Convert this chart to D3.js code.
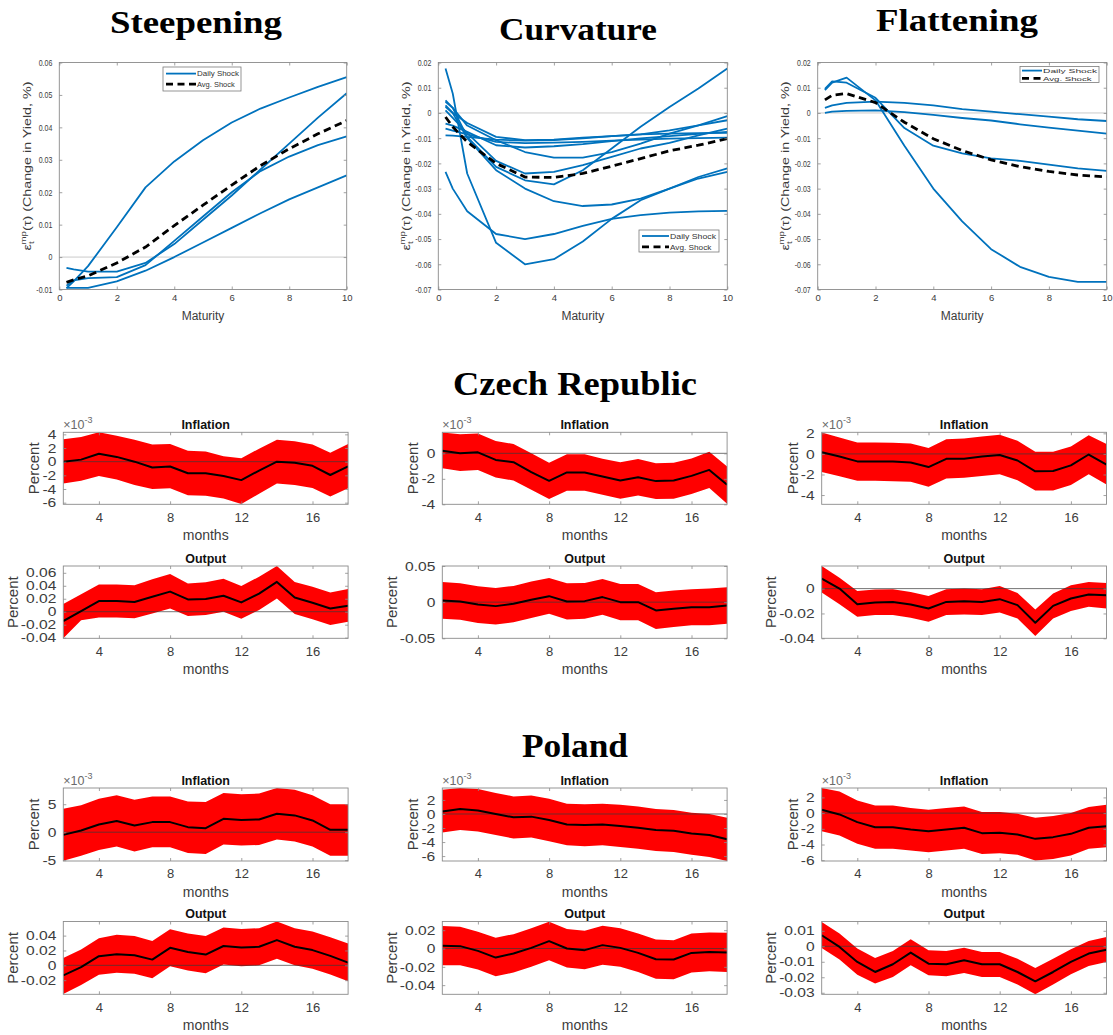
<!DOCTYPE html>
<html>
<head>
<meta charset="utf-8">
<script src="https://cdn.jsdelivr.net/npm/d3@7"></script>
<style>
  body { margin: 0; background: #fff; }
  svg { display: block; }
</style>
</head>
<body>
<svg id="fig" width="1113" height="1035"></svg>
<script>
// ---------- Yield-curve responses to monetary policy shocks ----------
const maturities = [0.25, 0.5, 1, 2, 3, 4, 5, 6, 7, 8, 9, 10];
const maturityTicks = [0, 2, 4, 6, 8, 10];
const steepeningTicks = [-0.01, 0, 0.01, 0.02, 0.03, 0.04, 0.05, 0.06];
const curveTicks = [-0.07, -0.06, -0.05, -0.04, -0.03, -0.02, -0.01, 0, 0.01, 0.02];

const steepeningDaily = [
  [-0.0096, -0.0075, -0.0028, 0.0092, 0.0215, 0.0295, 0.0360, 0.0415, 0.0458, 0.0492, 0.0525, 0.0555],
  [-0.0033, -0.0038, -0.0045, -0.0045, -0.0018, 0.0040, 0.0115, 0.0190, 0.0270, 0.0350, 0.0430, 0.0505],
  [-0.0088, -0.0072, -0.0065, -0.0062, -0.0025, 0.0050, 0.0125, 0.0200, 0.0265, 0.0310, 0.0345, 0.0372],
  [-0.0095, -0.0095, -0.0095, -0.0075, -0.0042, 0.0000, 0.0045, 0.0090, 0.0135, 0.0178, 0.0215, 0.0252]
];
const steepeningAvg = [-0.0078, -0.0070, -0.0058, -0.0018, 0.0031, 0.0097, 0.0160, 0.0222, 0.0282, 0.0334, 0.0380, 0.0421];

const curvatureDaily = [
  [0.0176, 0.0077, -0.0240, -0.0515, -0.0600, -0.0580, -0.0510, -0.0420, -0.0346, -0.0300, -0.0254, -0.0220],
  [-0.0234, -0.0300, -0.0390, -0.0480, -0.0500, -0.0480, -0.0448, -0.0420, -0.0405, -0.0395, -0.0390, -0.0388],
  [0.0024, 0.0000, -0.0100, -0.0227, -0.0300, -0.0350, -0.0369, -0.0363, -0.0340, -0.0300, -0.0260, -0.0234],
  [0.0050, 0.0020, -0.0095, -0.0214, -0.0267, -0.0283, -0.0227, -0.0141, -0.0055, 0.0024, 0.0097, 0.0176],
  [0.0010, -0.0020, -0.0080, -0.0190, -0.0240, -0.0234, -0.0207, -0.0174, -0.0141, -0.0119, -0.0089, -0.0062],
  [0.0044, 0.0020, -0.0050, -0.0108, -0.0155, -0.0177, -0.0177, -0.0155, -0.0122, -0.0082, -0.0049, -0.0013],
  [0.0030, 0.0000, -0.0040, -0.0095, -0.0108, -0.0106, -0.0098, -0.0092, -0.0085, -0.0069, -0.0049, -0.0029],
  [-0.0042, -0.0050, -0.0075, -0.0128, -0.0137, -0.0132, -0.0124, -0.0112, -0.0101, -0.0092, -0.0083, -0.0075],
  [-0.0089, -0.0090, -0.0095, -0.0106, -0.0110, -0.0108, -0.0101, -0.0092, -0.0085, -0.0082, -0.0080, -0.0079],
  [-0.0062, -0.0070, -0.0085, -0.0115, -0.0120, -0.0118, -0.0115, -0.0110, -0.0106, -0.0102, -0.0100, -0.0098]
];
const curvatureAvg = [-0.0016, -0.0055, -0.0115, -0.0200, -0.0254, -0.0256, -0.0240, -0.0211, -0.0181, -0.0150, -0.0128, -0.0102];

const flatteningDaily = [
  [0.0090, 0.0120, 0.0140, 0.0050, -0.0130, -0.0300, -0.0430, -0.0540, -0.0610, -0.0650, -0.0670, -0.0670],
  [0.0095, 0.0125, 0.0120, 0.0060, -0.0060, -0.0130, -0.0160, -0.0180, -0.0190, -0.0205, -0.0220, -0.0230],
  [0.0020, 0.0030, 0.0040, 0.0045, 0.0040, 0.0030, 0.0015, 0.0005, -0.0005, -0.0015, -0.0025, -0.0032],
  [0.0000, 0.0005, 0.0008, 0.0010, 0.0003, -0.0008, -0.0020, -0.0030, -0.0045, -0.0058, -0.0070, -0.0082]
];
const flatteningAvg = [0.0052, 0.0070, 0.0077, 0.0041, -0.0037, -0.0102, -0.0149, -0.0186, -0.0213, -0.0232, -0.0246, -0.0254];

// ---------- Impulse responses (median with error band) ----------
const months = [2, 3, 4, 5, 6, 7, 8, 9, 10, 11, 12, 13, 14, 15, 16, 17, 18];
const monthTicks = [4, 8, 12, 16];

// Czech Republic, inflation (x 10^-3 percent)
const czInflMed1 = [0.0, 0.3, 1.15, 0.7, 0.0, -0.85, -0.7, -1.7, -1.7, -2.1, -2.7, -1.3, 0.0, -0.15, -0.6, -1.95, -0.7];
const czInflHi1  = [3.3, 3.6, 4.3, 3.8, 3.2, 2.5, 2.6, 1.6, 1.5, 0.8, 0.5, 1.9, 3.2, 3.0, 2.5, 1.3, 2.6];
const czInflLo1  = [-3.2, -2.8, -2.1, -2.6, -3.4, -4.0, -3.9, -4.9, -5.0, -5.4, -6.2, -4.7, -3.2, -3.4, -3.85, -5.1, -3.9];
const czInflMed2 = [0.2, 0.0, 0.08, -0.52, -0.7, -1.48, -2.16, -1.5, -1.5, -1.82, -2.13, -1.87, -2.18, -2.13, -1.77, -1.3, -2.47];
const czInflHi2  = [1.64, 1.5, 1.56, 0.96, 0.73, 0.0, -0.73, -0.08, -0.08, -0.42, -0.7, -0.44, -0.78, -0.73, -0.4, 0.13, -1.04];
const czInflLo2  = [-1.17, -1.38, -1.3, -1.9, -2.13, -2.86, -3.58, -2.93, -2.93, -3.25, -3.56, -3.3, -3.58, -3.56, -3.2, -2.73, -3.95];
const czInflMed3 = [0.16, -0.25, -0.73, -0.73, -0.73, -0.83, -1.28, -0.48, -0.48, -0.25, -0.1, -0.64, -1.69, -1.66, -1.12, -0.06, -1.05];
const czInflHi3  = [2.07, 1.6, 1.12, 1.12, 1.08, 1.0, 0.57, 1.43, 1.5, 1.69, 1.85, 1.28, 0.22, 0.22, 0.73, 1.82, 0.96];
const czInflLo3  = [-1.75, -2.17, -2.6, -2.6, -2.65, -2.7, -3.2, -2.4, -2.33, -2.14, -1.98, -2.55, -3.57, -3.57, -3.03, -1.98, -2.97];

// Czech Republic, output (percent)
const czOutMed1 = [-0.0144, 0.001, 0.0164, 0.0164, 0.015, 0.023, 0.031, 0.019, 0.0195, 0.0246, 0.0144, 0.028, 0.046, 0.022, 0.0138, 0.005, 0.0092];
const czOutHi1  = [0.0118, 0.027, 0.042, 0.042, 0.041, 0.050, 0.058, 0.0436, 0.0456, 0.051, 0.0395, 0.054, 0.0705, 0.046, 0.0385, 0.0297, 0.035];
const czOutLo1  = [-0.041, -0.013, -0.009, -0.009, -0.010, -0.0026, 0.005, -0.0067, -0.005, 0.0, -0.011, 0.0026, 0.0205, -0.0036, -0.0118, -0.0205, -0.0154];
const czOutMed2 = [0.0023, 0.001, -0.0032, -0.0055, -0.0023, 0.0032, 0.0083, 0.001, 0.0014, 0.007, 0.0, 0.0, -0.0115, -0.0092, -0.007, -0.007, -0.0046];
const czOutHi2  = [0.0278, 0.026, 0.022, 0.0194, 0.0225, 0.0285, 0.0335, 0.026, 0.0266, 0.032, 0.025, 0.025, 0.0138, 0.016, 0.018, 0.019, 0.0206];
const czOutLo2  = [-0.023, -0.0245, -0.0287, -0.031, -0.0278, -0.0218, -0.016, -0.024, -0.023, -0.0175, -0.025, -0.025, -0.037, -0.0344, -0.032, -0.032, -0.030];
const czOutMed3 = [0.008, 0.0, -0.0125, -0.0112, -0.0107, -0.0128, -0.016, -0.0107, -0.0101, -0.0107, -0.0085, -0.0133, -0.0275, -0.0139, -0.008, -0.0048, -0.0053];
const czOutHi3  = [0.0181, 0.0088, -0.0019, -0.0008, -0.0005, -0.0027, -0.0059, -0.0005, 0.0, -0.0005, 0.0021, -0.0035, -0.0168, -0.004, 0.0027, 0.0053, 0.0045];
const czOutLo3  = [-0.0032, -0.0125, -0.0227, -0.0213, -0.0213, -0.0235, -0.0267, -0.0213, -0.0208, -0.0213, -0.0192, -0.024, -0.0381, -0.024, -0.0181, -0.0147, -0.016];

// Poland, inflation (x 10^-3 percent)
const plInflMed1 = [-0.48, 0.3, 1.38, 2.0, 1.2, 1.8, 1.8, 0.9, 0.72, 2.4, 2.2, 2.28, 3.3, 3.0, 2.1, 0.42, 0.42];
const plInflHi1  = [4.2, 4.8, 6.0, 6.6, 5.8, 6.4, 6.4, 5.5, 5.4, 7.0, 6.8, 6.9, 7.9, 7.6, 6.6, 5.0, 5.0];
const plInflLo1  = [-5.1, -4.2, -3.17, -2.57, -3.47, -2.7, -2.7, -3.7, -3.9, -2.2, -2.4, -2.28, -1.3, -1.68, -2.57, -4.2, -4.2];
const plInflMed2 = [0.34, 0.72, 0.48, 0.0, -0.48, -0.38, -0.86, -1.5, -1.58, -1.5, -1.73, -1.97, -2.3, -2.4, -2.78, -3.0, -3.6];
const plInflHi2  = [3.45, 3.7, 3.55, 3.0, 2.5, 2.64, 2.16, 1.44, 1.39, 1.44, 1.3, 1.06, 0.72, 0.58, 0.19, 0.0, -0.53];
const plInflLo2  = [-2.64, -2.3, -2.5, -3.0, -3.5, -3.36, -3.9, -4.46, -4.6, -4.46, -4.7, -4.94, -5.28, -5.42, -5.8, -6.14, -6.7];
const plInflMed3 = [0.43, -0.17, -1.15, -1.79, -1.79, -2.08, -2.3, -2.08, -1.87, -2.55, -2.5, -2.72, -3.28, -3.06, -2.64, -1.87, -1.66];
const plInflHi3  = [3.2, 2.77, 1.62, 0.98, 0.98, 0.64, 0.43, 0.64, 0.85, 0.13, 0.13, -0.09, -0.6, -0.38, 0.0, 0.77, 1.06];
const plInflLo3  = [-2.3, -2.85, -3.9, -4.55, -4.55, -4.77, -4.98, -4.77, -4.55, -5.2, -5.1, -5.3, -6.04, -5.83, -5.4, -4.55, -4.34];

// Poland, output (percent)
const plOutMed1 = [-0.0136, -0.0023, 0.0123, 0.015, 0.0136, 0.0077, 0.0236, 0.018, 0.0145, 0.026, 0.024, 0.025, 0.034, 0.025, 0.0205, 0.0127, 0.0036];
const plOutHi1  = [0.01, 0.0214, 0.0364, 0.041, 0.0395, 0.0327, 0.0486, 0.043, 0.0395, 0.051, 0.049, 0.05, 0.059, 0.05, 0.0455, 0.0377, 0.0295];
const plOutLo1  = [-0.0386, -0.0264, -0.0127, -0.01, -0.0114, -0.0173, -0.0014, -0.0068, -0.0105, 0.001, -0.0014, 0.0, 0.009, 0.0, -0.0045, -0.0123, -0.0214];
const plOutMed2 = [0.0029, 0.0026, -0.0026, -0.0099, -0.0055, 0.0007, 0.008, 0.0, -0.0018, 0.0037, 0.0007, -0.0048, -0.0117, -0.012, -0.0048, -0.0037, -0.0044];
const plOutHi2  = [0.0245, 0.0238, 0.0183, 0.0117, 0.0157, 0.022, 0.0293, 0.0212, 0.0194, 0.0249, 0.022, 0.0165, 0.0099, 0.0091, 0.0165, 0.0175, 0.0172];
const plOutLo2  = [-0.0183, -0.0183, -0.023, -0.0303, -0.0263, -0.02, -0.0128, -0.0208, -0.0227, -0.0176, -0.02, -0.0256, -0.0329, -0.0336, -0.0263, -0.0249, -0.0256];
const plOutMed3 = [0.0071, -0.0004, -0.0101, -0.0166, -0.0116, -0.0041, -0.0112, -0.0116, -0.009, -0.0116, -0.0116, -0.0166, -0.0226, -0.0166, -0.0101, -0.0047, -0.0022];
const plOutHi3  = [0.0157, 0.0082, -0.0015, -0.0075, -0.003, 0.0045, -0.0026, -0.003, -0.0009, -0.0037, -0.0037, -0.008, -0.014, -0.008, -0.0019, 0.0034, 0.006];
const plOutLo3  = [-0.0011, -0.0086, -0.0183, -0.0241, -0.0198, -0.0123, -0.0187, -0.0194, -0.0172, -0.0198, -0.0198, -0.0247, -0.031, -0.0247, -0.0181, -0.0127, -0.0101];

// Axis limits and tick values of each response panel
const czInflLimits = [[-6.24, 4.3], [-4.0, 1.65], [-4.9, 2.1]];
const czInflTicks  = [[-6, -4, -2, 0, 2, 4], [-4, -2, 0], [-4, -2, 0, 2]];
const czOutLimits  = [[-0.041, 0.0705], [-0.05, 0.05], [-0.04, 0.0182]];
const czOutTicks   = [[-0.04, -0.02, 0, 0.02, 0.04, 0.06], [-0.05, 0, 0.05], [-0.04, -0.02, 0]];
const plInflLimits = [[-5.15, 7.9], [-6.7, 3.7], [-6.1, 3.2]];
const plInflTicks  = [[-5, 0, 5], [-6, -4, -2, 0, 2], [-6, -4, -2, 0, 2]];
const plOutLimits  = [[-0.039, 0.059], [-0.05, 0.0295], [-0.031, 0.016]];
const plOutTicks   = [[-0.02, 0, 0.02, 0.04], [-0.04, -0.02, 0, 0.02], [-0.03, -0.02, -0.01, 0, 0.01]];

// ---------- drawing ----------
const svg = d3.select("#fig");
const SANS = "'Liberation Sans', Arial, Helvetica, sans-serif";
const SERIF = "'Liberation Serif', 'Times New Roman', serif";
const AXIS_TEXT = "#3c3c3c";
const BOX = "#8a8a8a";
const BLUE = "#0072BD";
let clipId = 0;

const fmt = d => (d === 0 ? "0" : String(+d.toFixed(4)));

function clipFor(x, y) {
  const id = "clip" + (clipId++);
  svg.append("clipPath").attr("id", id).append("rect")
    .attr("x", x.range()[0]).attr("y", y.range()[1])
    .attr("width", x.range()[1] - x.range()[0])
    .attr("height", y.range()[0] - y.range()[1]);
  return "url(#" + id + ")";
}

// Box with inward ticks on all four sides, labels on left and bottom.
// yStretch widens (or narrows) the y tick labels along their reading direction.
function drawFrame(x, y, xTicks, yTicks, fs, pad) {
  const g = svg.append("g");
  const [x0, x1] = x.range();
  const [yb, yt] = y.range();
  const tk = 3;
  const style = (sel, size) => {
    sel.select(".domain").remove();
    sel.selectAll(".tick line").attr("stroke", BOX).attr("stroke-width", 0.8);
    sel.selectAll(".tick text").attr("fill", AXIS_TEXT).style("font-family", SANS).style("font-size", size + "px");
  };
  g.append("g").attr("transform", `translate(0,${yb})`)
    .call(d3.axisBottom(x).tickValues(xTicks).tickSizeInner(-tk).tickSizeOuter(0).tickPadding(pad.x).tickFormat(fmt))
    .call(s => style(s, fs.x));
  g.append("g").attr("transform", `translate(0,${yt})`)
    .call(d3.axisTop(x).tickValues(xTicks).tickSizeInner(-tk).tickSizeOuter(0).tickFormat(""))
    .call(s => style(s, fs.x));
  const left = g.append("g").attr("transform", `translate(${x0},0)`)
    .call(d3.axisLeft(y).tickValues(yTicks).tickSizeInner(-tk).tickSizeOuter(0).tickPadding(pad.y).tickFormat(fmt))
    .call(s => style(s, fs.y));
  left.selectAll(".tick text")
    .attr("x", 0)
    .attr("transform", `translate(${-pad.y},0) scale(${fs.yStretch},1)`);
  g.append("g").attr("transform", `translate(${x1},0)`)
    .call(d3.axisRight(y).tickValues(yTicks).tickSizeInner(-tk).tickSizeOuter(0).tickFormat(""))
    .call(s => style(s, fs.x));
  g.append("rect").attr("x", x0).attr("y", yt).attr("width", x1 - x0).attr("height", yb - yt)
    .attr("fill", "none").attr("stroke", BOX).attr("stroke-width", 0.9);
  let maxW = 0;
  left.selectAll(".tick text").each(function () { maxW = Math.max(maxW, this.getBBox().width * fs.yStretch); });
  return { labelLeft: x0 - pad.y - maxW };
}

// ----- top row: yield curve shocks -----
const topY = [289.5, 62.5];
const topPanels = [
  { title: "Steepening", tx: 196, ty: 33, tw: 172, x: [59.3, 346.7], dom: [-0.01, 0.06], ticks: steepeningTicks,
    daily: steepeningDaily, avg: steepeningAvg,
    leg: { x: 163, y: 67, w: 78, h: 24, s0: 166, s1: 196, r: [73.6, 84.2], fs: 8, tl: 42 } },
  { title: "Curvature", tx: 578, ty: 40, tw: 158, x: [438.3, 727.3], dom: [-0.07, 0.02], ticks: curveTicks,
    daily: curvatureDaily, avg: curvatureAvg,
    leg: { x: 639, y: 230, w: 80, h: 22, s0: 642, s1: 669, r: [236, 246.8], fs: 8, tl: 46 } },
  { title: "Flattening", tx: 957, ty: 31, tw: 162, x: [817.7, 1106.7], dom: [-0.07, 0.02], ticks: curveTicks,
    daily: flatteningDaily, avg: flatteningAvg,
    leg: { x: 1020, y: 66.5, w: 79, h: 16, s0: 1022, s1: 1042, r: [70.6, 78.4], fs: 6.2, tl: 54 } }
];

topPanels.forEach(p => {
  const x = d3.scaleLinear().domain([0, 10]).range(p.x);
  const y = d3.scaleLinear().domain(p.dom).range(topY);
  const clip = clipFor(x, y);
  const line = d3.line().x((d, i) => x(maturities[i])).y(d => y(d));

  svg.append("text").attr("x", p.tx).attr("y", p.ty).attr("text-anchor", "middle")
    .attr("textLength", p.tw).attr("lengthAdjust", "spacingAndGlyphs")
    .style("font-family", SERIF).style("font-weight", "bold").style("font-size", "31px")
    .text(p.title);

  const plot = svg.append("g").attr("clip-path", clip);
  plot.append("line").attr("x1", p.x[0]).attr("x2", p.x[1]).attr("y1", y(0)).attr("y2", y(0))
    .attr("stroke", "#c4c4c4").attr("stroke-width", 0.9);
  plot.selectAll(".daily").data(p.daily).join("path")
    .attr("d", line).attr("fill", "none").attr("stroke", BLUE).attr("stroke-width", 1.8)
    .attr("stroke-linejoin", "round");
  plot.append("path").datum(p.avg).attr("d", line).attr("fill", "none")
    .attr("stroke", "#000").attr("stroke-width", 2.8).attr("stroke-dasharray", "7.5,4.5");

  const fr = drawFrame(x, y, maturityTicks, p.ticks, { x: 9.5, y: 9, yStretch: 0.78 }, { x: 5, y: 7 });

  svg.append("text").attr("x", (p.x[0] + p.x[1]) / 2).attr("y", topY[0] + 30)
    .attr("text-anchor", "middle").attr("fill", AXIS_TEXT)
    .style("font-family", SANS).style("font-size", "12px").text("Maturity");

  // rotated label: epsilon with stacked sub/superscript, lengthened along the text
  const cy = 166;
  const lab = svg.append("text")
    .attr("transform", `translate(${fr.labelLeft - 5},${cy}) rotate(-90) scale(1.3,1)`)
    .attr("text-anchor", "middle").attr("fill", AXIS_TEXT)
    .style("font-family", SANS).style("font-size", "11px");
  lab.append("tspan").text("\u03B5");
  lab.append("tspan").attr("dy", 3).style("font-size", "7.5px").text("t");
  lab.append("tspan").attr("dx", -2.4).attr("dy", -8).style("font-size", "7.5px").text("mp");
  lab.append("tspan").attr("dy", 5).text("(\u03C4) (Change in Yield, %)");

  // legend
  const L = p.leg;
  const lg = svg.append("g");
  lg.append("rect").attr("x", L.x).attr("y", L.y).attr("width", L.w).attr("height", L.h)
    .attr("fill", "#fff").attr("stroke", "#7a7a7a").attr("stroke-width", 0.8);
  const entries = [
    { label: "Daily Shock", color: BLUE, w: 1.8, dash: null },
    { label: "Avg. Shock", color: "#000", w: 2.8, dash: "7,4.5" }
  ];
  entries.forEach((e, i) => {
    lg.append("line").attr("x1", L.s0).attr("x2", L.s1).attr("y1", L.r[i]).attr("y2", L.r[i])
      .attr("stroke", e.color).attr("stroke-width", e.w).attr("stroke-dasharray", e.dash);
    lg.append("text").attr("x", L.s1 + 1).attr("y", L.r[i]).attr("dy", "0.35em")
      .attr("textLength", i === 0 ? L.tl : L.tl * 0.9).attr("lengthAdjust", "spacingAndGlyphs")
      .attr("fill", "#333").style("font-family", SANS).style("font-size", L.fs + "px").text(e.label);
  });
});

// ----- impulse response panels -----
const colLeft = [63.3, 442.3, 821.7];
const colWidth = 284.8;

function drawIRF(col, top, bottom, title, med, lo, hi, limits, ticks, scaled) {
  const x = d3.scaleLinear().domain([2, 18]).range([colLeft[col], colLeft[col] + colWidth]);
  const y = d3.scaleLinear().domain(limits).range([bottom, top]);
  const clip = clipFor(x, y);
  const plot = svg.append("g").attr("clip-path", clip);

  const band = d3.area().x((d, i) => x(months[i])).y0((d, i) => y(lo[i])).y1((d, i) => y(hi[i]));
  plot.append("path").datum(med).attr("d", band).attr("fill", "#ff0000");
  plot.append("line").attr("x1", x(2)).attr("x2", x(18)).attr("y1", y(0)).attr("y2", y(0))
    .attr("stroke", "#3a3a3a").attr("stroke-width", 0.7);
  const line = d3.line().x((d, i) => x(months[i])).y(d => y(d));
  plot.append("path").datum(med).attr("d", line).attr("fill", "none")
    .attr("stroke", "#000").attr("stroke-width", 2).attr("stroke-linejoin", "round");

  const fr = drawFrame(x, y, monthTicks, ticks, { x: 13, y: 13, yStretch: 1.2 }, { x: 8, y: 7 });

  svg.append("text").attr("x", x(10)).attr("y", top - 3.5).attr("text-anchor", "middle")
    .attr("fill", "#111").style("font-family", SANS).style("font-weight", "bold").style("font-size", "12.5px")
    .text(title);
  svg.append("text").attr("x", x(10)).attr("y", bottom + 35.5).attr("text-anchor", "middle")
    .attr("fill", AXIS_TEXT).style("font-family", SANS).style("font-size", "14px").text("months");
  svg.append("text")
    .attr("transform", `translate(${fr.labelLeft - 3},${(top + bottom) / 2}) rotate(-90)`)
    .attr("text-anchor", "middle").attr("fill", AXIS_TEXT)
    .style("font-family", SANS).style("font-size", "15px").text("Percent");
  if (scaled) {
    const ex = svg.append("text").attr("x", colLeft[col]).attr("y", top - 3.5)
      .attr("fill", "#6a6a6a").style("font-family", SANS).style("font-size", "12.5px");
    ex.append("tspan").text("\u00D710");
    ex.append("tspan").attr("dy", -5.5).style("font-size", "9px").text("-3");
  }
}

const czRows = { infl: [432.3, 504.3], out: [566, 638.3] };
const plRows = { infl: [788, 861], out: [921.5, 994.3] };

const czInfl = [[czInflMed1, czInflLo1, czInflHi1], [czInflMed2, czInflLo2, czInflHi2], [czInflMed3, czInflLo3, czInflHi3]];
const czOut  = [[czOutMed1, czOutLo1, czOutHi1], [czOutMed2, czOutLo2, czOutHi2], [czOutMed3, czOutLo3, czOutHi3]];
const plInfl = [[plInflMed1, plInflLo1, plInflHi1], [plInflMed2, plInflLo2, plInflHi2], [plInflMed3, plInflLo3, plInflHi3]];
const plOut  = [[plOutMed1, plOutLo1, plOutHi1], [plOutMed2, plOutLo2, plOutHi2], [plOutMed3, plOutLo3, plOutHi3]];

[0, 1, 2].forEach(c => {
  drawIRF(c, czRows.infl[0], czRows.infl[1], "Inflation", ...czInfl[c], czInflLimits[c], czInflTicks[c], true);
  drawIRF(c, czRows.out[0], czRows.out[1], "Output", ...czOut[c], czOutLimits[c], czOutTicks[c], false);
  drawIRF(c, plRows.infl[0], plRows.infl[1], "Inflation", ...plInfl[c], plInflLimits[c], plInflTicks[c], true);
  drawIRF(c, plRows.out[0], plRows.out[1], "Output", ...plOut[c], plOutLimits[c], plOutTicks[c], false);
});

// country headings
[["Czech Republic", 575, 395, 244], ["Poland", 575, 757, 106]].forEach(([t, cx, by, w]) => {
  svg.append("text").attr("x", cx).attr("y", by).attr("text-anchor", "middle")
    .attr("textLength", w).attr("lengthAdjust", "spacingAndGlyphs")
    .style("font-family", SERIF).style("font-weight", "bold").style("font-size", "33px").text(t);
});
</script>
</body>
</html>
